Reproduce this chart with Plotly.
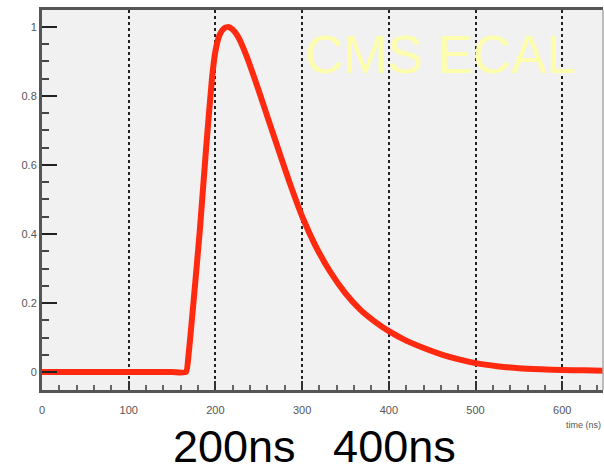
import plotly.graph_objects as go

# Pulse shape (time in ns, normalised amplitude)
time_ns = [0, 50, 100, 150, 166, 169, 175, 182, 189, 196, 200, 205, 210, 215, 220, 226,
           236, 250, 263, 275, 286, 301, 315, 332, 350, 367, 385, 401, 420, 444, 462,
           482, 500, 525, 550, 575, 600, 625, 650]
amplitude = [0, 0, 0, 0, 0, 0.05, 0.21, 0.41, 0.64, 0.85, 0.93, 0.978, 0.996, 1.0, 0.992, 0.972,
             0.915, 0.815, 0.717, 0.627, 0.546, 0.445, 0.368, 0.292, 0.228, 0.181, 0.144, 0.117, 0.091,
             0.066, 0.05, 0.036, 0.026, 0.017, 0.011, 0.008, 0.006, 0.005, 0.004]

x_ticks = [0, 100, 200, 300, 400, 500, 600]
y_ticks = [0, 0.2, 0.4, 0.6, 0.8, 1]
y_tick_labels = ["0", "0.2", "0.4", "0.6", "0.8", "1"]

fig = go.Figure()
fig.add_trace(go.Scatter(x=time_ns, y=amplitude, mode="lines",
                         line=dict(color="#ff2a10", width=6, shape="spline", smoothing=0.5),
                         hoverinfo="skip"))

fig.update_layout(
    width=604, height=472,
    margin=dict(l=42, r=1, t=10, b=82),
    paper_bgcolor="white",
    plot_bgcolor="#f1f1f1",
    showlegend=False,
    font=dict(family="Liberation Sans, Arial, sans-serif"),
)

fig.update_xaxes(
    range=[0, 647], tickvals=x_ticks, ticktext=[str(v) for v in x_ticks],
    showgrid=True, gridcolor="#222222", griddash="dot", gridwidth=1.5,
    zeroline=False,
    showline=True, linecolor="#555555", linewidth=3, mirror=True,
    ticks="inside", ticklen=9, tickwidth=1.5, tickcolor="#333333",
    minor=dict(ticks="inside", ticklen=5, dtick=20, tickcolor="#666666", tickwidth=1.5, showgrid=False),
    tickfont=dict(size=11, color="#555555"),
    ticklabelstandoff=8,
)
fig.update_yaxes(
    range=[-0.052, 1.049], tickvals=y_ticks, ticktext=y_tick_labels,
    showgrid=False, zeroline=False,
    showline=True, linecolor="#555555", linewidth=3, mirror=False,
    ticks="inside", ticklen=15, tickwidth=2, tickcolor="#222222",
    minor=dict(ticks="inside", ticklen=7, dtick=0.05, tickcolor="#444444", tickwidth=1.5),
    tickfont=dict(size=11, color="#555555"),
)

# right frame line (light)
fig.add_shape(type="line", xref="paper", yref="paper", x0=1, x1=1, y0=0, y1=1,
              line=dict(color="#aaaaaa", width=1.5))

fig.add_annotation(text="CMS ECAL", xref="paper", yref="paper", x=0.71, y=0.883,
                   showarrow=False, xanchor="center", yanchor="middle",
                   font=dict(size=53, color="#fdfdae", family="Liberation Sans, Arial, sans-serif"))
fig.add_annotation(text="time (ns)", xref="paper", yref="paper", x=1.0, y=-0.092,
                   showarrow=False, xanchor="right", yanchor="middle",
                   font=dict(size=9, color="#555555"))
fig.add_annotation(text="200ns   400ns", xref="paper", yref="paper", x=0.485, y=-0.148,
                   showarrow=False, xanchor="center", yanchor="middle",
                   font=dict(size=45, color="black", family="Liberation Sans, Arial, sans-serif"))

fig.write_html("out.html", config={"displayModeBar": False},
               post_script="document.body.style.margin='0';document.body.style.overflow='hidden';")
